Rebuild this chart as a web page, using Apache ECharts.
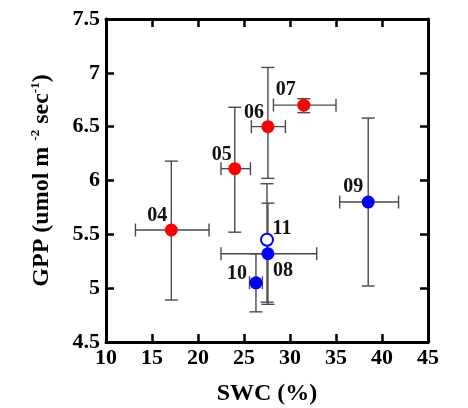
<!DOCTYPE html>
<html>
<head>
<meta charset="utf-8">
<script src="https://cdn.jsdelivr.net/npm/echarts@6/dist/echarts.min.js"></script>
<style>
  html, body { margin: 0; padding: 0; background: #fff; }
  #container { width: 468px; height: 408px; }
</style>
</head>
<body>
<div id="container"></div>
<script>
var dom = document.getElementById("container");
var myChart = echarts.init(dom);

// year labels and groups (red = 04-07, blue = 08-10, open = 11)
var years = ["04", "05", "06", "07", "08", "09", "10", "11"];
var groups = ["red", "red", "red", "red", "blue", "blue", "blue", "open"];

// SWC (%) and GPP values with error bar ends
var swc = [17.1, 24.0, 27.6, 31.5, 27.6, 38.5, 26.3, 27.5];
var gpp = [5.54, 6.11, 6.50, 6.70, 5.32, 5.80, 5.05, 5.45];
var swcLo = [13.2, 22.5, 25.8, 28.2, 22.5, 35.4, 25.6, null];
var swcHi = [21.2, 25.7, 29.5, 35.0, 32.9, 41.8, 27.0, null];
var gppLo = [4.89, 5.52, 6.02, 6.63, 4.85, 5.02, 4.78, 4.87];
var gppHi = [6.18, 6.68, 7.05, 6.76, 5.79, 6.58, 5.32, 5.97];

// where each year label sits relative to its point
var labelOffsets = {
  "04": [-14, -14], "05": [-13, -14], "06": [-14, -14], "07": [-18, -15],
  "08": [15, 17], "09": [-15, -15], "10": [-19, -9], "11": [15, -11]
};

var font = "Liberation Serif";

function pointsFor(group) {
  var out = [];
  for (var i = 0; i < years.length; i++) {
    if (groups[i] == group) {
      out.push({
        value: [swc[i], gpp[i]],
        name: years[i],
        label: { offset: labelOffsets[years[i]] }
      });
    }
  }
  return out;
}

var errData = [];
for (var k = 0; k < years.length; k++) {
  errData.push([swc[k], gpp[k],
    swcLo[k] == null ? NaN : swcLo[k], swcHi[k] == null ? NaN : swcHi[k],
    gppLo[k], gppHi[k]]);
}

function renderErr(params, api) {
  var x = api.value(0), y = api.value(1);
  var cap = 6.5;
  var style = { stroke: "#4a4a4a", lineWidth: 1.4 };
  var children = [];
  var lo, hi;
  if (!isNaN(api.value(4))) {
    lo = api.coord([x, api.value(4)]);
    hi = api.coord([x, api.value(5)]);
    children.push({ type: "line", shape: { x1: lo[0], y1: lo[1], x2: hi[0], y2: hi[1] }, style: style });
    children.push({ type: "line", shape: { x1: lo[0] - cap, y1: lo[1], x2: lo[0] + cap, y2: lo[1] }, style: style });
    children.push({ type: "line", shape: { x1: hi[0] - cap, y1: hi[1], x2: hi[0] + cap, y2: hi[1] }, style: style });
  }
  if (!isNaN(api.value(2))) {
    lo = api.coord([api.value(2), y]);
    hi = api.coord([api.value(3), y]);
    children.push({ type: "line", shape: { x1: lo[0], y1: lo[1], x2: hi[0], y2: hi[1] }, style: style });
    children.push({ type: "line", shape: { x1: lo[0], y1: lo[1] - cap, x2: lo[0], y2: lo[1] + cap }, style: style });
    children.push({ type: "line", shape: { x1: hi[0], y1: hi[1] - cap, x2: hi[0], y2: hi[1] + cap }, style: style });
  }
  return { type: "group", children: children };
}

var pointLabel = {
  show: true,
  formatter: "{b}",
  position: "inside",
  fontFamily: font,
  fontWeight: "bold",
  fontSize: 20,
  color: "#111"
};

var frameLine = { show: true, onZero: false, lineStyle: { color: "#000", width: 3 } };
var frameTick = { show: true, inside: true, length: 8, lineStyle: { color: "#000", width: 2.5 } };
var tickLabel = { fontFamily: font, fontWeight: "bold", fontSize: 22, color: "#000" };

var option = {
  animation: false,
  grid: { left: 106, right: 40, top: 19, bottom: 66, containLabel: false, outerBoundsMode: "none" },
  xAxis: [
    {
      type: "value", min: 10, max: 45, interval: 5, position: "bottom",
      name: "SWC (%)", nameLocation: "middle", nameGap: 40,
      nameTextStyle: { fontFamily: font, fontWeight: "bold", fontSize: 24, color: "#000" },
      axisLine: frameLine, axisTick: frameTick, splitLine: { show: false },
      axisLabel: Object.assign({ margin: 5 }, tickLabel)
    },
    {
      type: "value", min: 10, max: 45, interval: 5, position: "top",
      axisLine: frameLine, axisTick: frameTick, splitLine: { show: false },
      axisLabel: { show: false }
    }
  ],
  yAxis: [
    {
      type: "value", min: 4.5, max: 7.5, interval: 0.5, position: "left",
      name: "GPP (umol m {sup|-2} sec{sup|-1})", nameLocation: "middle", nameGap: 52,
      nameTextStyle: {
        fontFamily: font, fontWeight: "bold", fontSize: 24, color: "#000",
        rich: {
          sup: { fontFamily: font, fontWeight: "bold", fontSize: 13, color: "#000", verticalAlign: "bottom", padding: [0, 0, 12, 0] }
        }
      },
      axisLine: frameLine, axisTick: frameTick, splitLine: { show: false },
      axisLabel: Object.assign({ margin: 6 }, tickLabel)
    },
    {
      type: "value", min: 4.5, max: 7.5, interval: 0.5, position: "right",
      axisLine: frameLine, axisTick: frameTick, splitLine: { show: false },
      axisLabel: { show: false }
    }
  ],
  series: [
    {
      type: "custom", name: "err", renderItem: renderErr, data: errData,
      encode: { x: 0, y: 1 }, z: 1, silent: true
    },
    {
      type: "scatter", name: "red", data: pointsFor("red"), symbolSize: 13,
      itemStyle: { color: "#ff0000", opacity: 1 }, label: pointLabel, z: 3
    },
    {
      type: "scatter", name: "blue", data: pointsFor("blue"), symbolSize: 13,
      itemStyle: { color: "#0000ff", opacity: 1 }, label: pointLabel, z: 3
    },
    {
      type: "scatter", name: "open", data: pointsFor("open"), symbolSize: 12,
      itemStyle: { color: "#fff", borderColor: "#0000ff", borderWidth: 2, opacity: 1 },
      label: pointLabel, z: 3
    }
  ]
};

myChart.setOption(option);
</script>
</body>
</html>
